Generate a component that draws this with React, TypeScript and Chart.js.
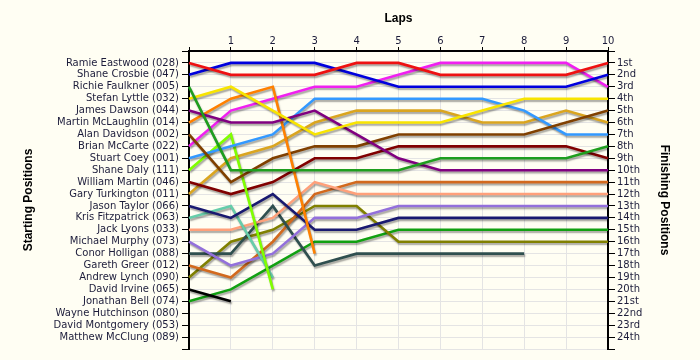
import React, { useEffect, useRef } from "react";
import { Chart, registerables } from "chart.js";

Chart.register(...registerables);

const LAPS = [0, 1, 2, 3, 4, 5, 6, 7, 8, 9, 10];

const DRIVERS = [
  "Ramie Eastwood (028)",
  "Shane Crosbie (047)",
  "Richie Faulkner (005)",
  "Stefan Lyttle (032)",
  "James Dawson (044)",
  "Martin McLaughlin (014)",
  "Alan Davidson (002)",
  "Brian McCarte (022)",
  "Stuart Coey (001)",
  "Shane Daly (111)",
  "William Martin (046)",
  "Gary Turkington (011)",
  "Jason Taylor (066)",
  "Kris Fitzpatrick (063)",
  "Jack Lyons (033)",
  "Michael Murphy (073)",
  "Conor Holligan (088)",
  "Gareth Greer (012)",
  "Andrew Lynch (090)",
  "David Irvine (065)",
  "Jonathan Bell (074)",
  "Wayne Hutchinson (080)",
  "David Montgomery (053)",
  "Matthew McClung (089)",
];

const FINISH_LABELS = [
  "1st", "2nd", "3rd", "4th", "5th", "6th", "7th", "8th", "9th", "10th",
  "11th", "12th", "13th", "14th", "15th", "16th", "17th", "18th", "19th", "20th",
  "21st", "22nd", "23rd", "24th",
];

// positions per lap (lap 0 = start)
const ramieEastwood = [1, 2, 2, 2, 1, 1, 2, 2, 2, 2, 1];
const shaneCrosbie = [2, 1, 1, 1, 2, 3, 3, 3, 3, 3, 2];
const richieFaulkner = [3, 10, 10, 10, 10, 10, 9, 9, 9, 9, 8];
const stefanLyttle = [4, 3, 5, 7, 6, 6, 6, 5, 4, 4, 4];
const jamesDawson = [5, 6, 6, 5, 7, 9, 10, 10, 10, 10, 10];
const martinMcLaughlin = [6, 4, 3, 17];
const alanDavidson = [7, 11, 9, 8, 8, 7, 7, 7, 7, 6, 5];
const brianMcCarte = [8, 5, 4, 3, 3, 2, 1, 1, 1, 1, 3];
const stuartCoey = [9, 8, 7, 4, 4, 4, 4, 4, 5, 7, 7];
const shaneDaly = [10, 7, 20];
const williamMartin = [11, 12, 11, 9, 9, 8, 8, 8, 8, 8, 9];
const garyTurkington = [12, 9, 8, 6, 5, 5, 5, 6, 6, 5, 6];
const jasonTaylor = [13, 14, 12, 15, 15, 14, 14, 14, 14, 14, 14];
const krisFitzpatrick = [14, 13, 19];
const jackLyons = [15, 15, 14, 11, 12, 12, 12, 12, 12, 12, 12];
const michaelMurphy = [16, 18, 17, 14, 14, 13, 13, 13, 13, 13, 13];
const conorHolligan = [17, 17, 13, 18, 17, 17, 17, 17, 17];
const garethGreer = [18, 19, 16, 12, 11, 11, 11, 11, 11, 11, 11];
const andrewLynch = [19, 16, 15, 13, 13, 16, 16, 16, 16, 16, 16];
const davidIrvine = [20, 21];
const jonathanBell = [21, 20, 18, 16, 16, 15, 15, 15, 15, 15, 15];

const SERIES = [
  ramieEastwood, shaneCrosbie, richieFaulkner, stefanLyttle, jamesDawson,
  martinMcLaughlin, alanDavidson, brianMcCarte, stuartCoey, shaneDaly,
  williamMartin, garyTurkington, jasonTaylor, krisFitzpatrick, jackLyons,
  michaelMurphy, conorHolligan, garethGreer, andrewLynch, davidIrvine, jonathanBell,
];

const COLORS = [
  "#EE1111", "#0000DD", "#1E9E1E", "#F8E400", "#800080",
  "#FF8000", "#804000", "#F020F0", "#3399FF", "#80FF00",
  "#800000", "#DAA520", "#191970", "#66CDAA", "#FFA07A",
  "#9370DB", "#2F4F4F", "#D2691E", "#808000", "#000000", "#11A011",
];

const BG = "#FFFEF3";
const TEXT = "#1c1c3a";
const TICK_FONT = "'DejaVu Sans', Verdana, sans-serif";
const TITLE_FONT = "'Liberation Sans', Arial, sans-serif";

const shadowPlugin = {
  id: "lineShadow",
  beforeDatasetDraw(chart: any) {
    const ctx = chart.ctx;
    ctx.save();
    ctx.shadowColor = "rgba(0,0,0,0.35)";
    ctx.shadowOffsetX = 1;
    ctx.shadowOffsetY = 2;
    ctx.shadowBlur = 1.5;
  },
  afterDatasetDraw(chart: any) {
    chart.ctx.restore();
  },
};

const bgPlugin = {
  id: "bg",
  beforeDraw(chart: any) {
    const ctx = chart.ctx;
    ctx.save();
    ctx.fillStyle = BG;
    ctx.fillRect(0, 0, chart.width, chart.height);
    ctx.restore();
  },
};

export default function App() {
  const ref = useRef<HTMLCanvasElement | null>(null);

  useEffect(() => {
    if (!ref.current) return;
    const yCommon = {
      type: "linear" as const,
      min: 0,
      max: 25,
      reverse: true,
    };
    const chart = new Chart(ref.current, {
      type: "line",
      data: {
        labels: LAPS.map(String),
        datasets: SERIES.map((d, i) => ({
          label: DRIVERS[i],
          data: d,
          borderColor: COLORS[i],
          backgroundColor: COLORS[i],
          borderWidth: 2.6,
          pointRadius: 0,
          tension: 0,
          fill: false,
        })),
      },
      options: {
        responsive: false,
        maintainAspectRatio: false,
        animation: false,
        layout: { padding: { left: 0, right: 0, top: 0, bottom: 11 } },
        plugins: {
          legend: { display: false },
          tooltip: { enabled: false },
        },
        scales: {
          x: {
            type: "category",
            position: "top",
            offset: false,
            afterFit: (s: any) => {
              s.height = 51;
            },
            grid: {
              color: "#E4E4E4",
              tickColor: "#000",
              tickLength: 4,
              lineWidth: 1,
            },
            border: { color: "#000", width: 2 },
            ticks: {
              color: TEXT,
              padding: 0,
              autoSkip: false,
              maxRotation: 0,
              font: { family: TICK_FONT, size: 10 },
              callback: (_v: any, i: number) => (i === 0 ? "" : String(LAPS[i])),
            },
            title: {
              display: true,
              text: "Laps",
              color: "#000",
              font: { family: TITLE_FONT, size: 12, weight: "bold" },
              padding: { top: 11, bottom: 0 },
            },
          },
          y: {
            ...yCommon,
            position: "left",
            afterFit: (s: any) => {
              s.width = 189;
            },
            grid: {
              color: "#E4E4E4",
              tickColor: "#000",
              tickLength: 7,
              lineWidth: 1,
            },
            border: { color: "#000", width: 2 },
            ticks: {
              stepSize: 1,
              autoSkip: false,
              color: TEXT,
              padding: 3,
              font: { family: TICK_FONT, size: 10 },
              callback: (v: any) => {
                const n = Number(v);
                return n >= 1 && n <= 24 ? DRIVERS[n - 1] : "";
              },
            },
            title: {
              display: true,
              text: "Starting Positions",
              color: "#000",
              font: { family: TITLE_FONT, size: 12, weight: "bold" },
              padding: { top: 21, bottom: 0 },
            },
          },
          y2: {
            ...yCommon,
            position: "right",
            afterFit: (s: any) => {
              s.width = 92;
            },
            grid: {
              drawOnChartArea: false,
              color: "#000",
              tickColor: "#000",
              tickLength: 7,
            },
            border: { color: "#000", width: 2 },
            ticks: {
              stepSize: 1,
              autoSkip: false,
              color: TEXT,
              padding: 2,
              font: { family: TICK_FONT, size: 10 },
              callback: (v: any) => {
                const n = Number(v);
                return n >= 1 && n <= 24 ? FINISH_LABELS[n - 1] : "";
              },
            },
            title: {
              display: true,
              text: "Finishing Positions",
              color: "#000",
              font: { family: TITLE_FONT, size: 12, weight: "bold" },
              padding: { top: 28, bottom: 0 },
            },
          },
        },
      },
      plugins: [bgPlugin, shadowPlugin],
    } as any);
    return () => chart.destroy();
  }, []);

  return (
    <div style={{ position: "fixed", left: 0, top: 0, width: 700, height: 360, background: BG }}>
      <canvas ref={ref} width={700} height={360} style={{ width: 700, height: 360, display: "block" }} />
    </div>
  );
}
